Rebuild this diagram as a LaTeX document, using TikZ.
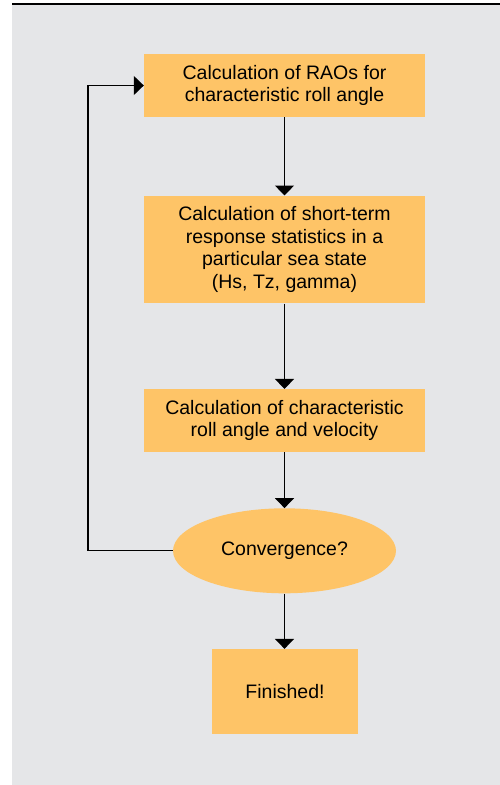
\documentclass[tikz,border=0pt]{standalone}
\usepackage{fontspec}
\setmainfont{Liberation Sans}
\usetikzlibrary{arrows.meta,shapes.geometric}
\definecolor{panel}{HTML}{E5E6E8}
\definecolor{boxfill}{HTML}{FEC467}
\tikzset{
  procbox/.style={rectangle, fill=boxfill, draw=none, align=center, inner sep=0pt,
    font=\fontsize{19.5}{22.5}\selectfont, text=black},
  decbox/.style={ellipse, fill=boxfill, draw=none, inner sep=0pt,
    font=\fontsize{19.5}{22.5}\selectfont, text=black},
  flow/.style={line width=1.3pt, -{Triangle[width=19pt,length=10pt]}},
  plainline/.style={line width=1.3pt}
}
\begin{document}
\begin{tikzpicture}[x=1pt,y=-1pt]
\useasboundingbox (0,0) rectangle (500,785);
\fill[panel] (12,4) rectangle (500,785);
\draw[plainline] (12,4) -- (500,4);
\node[procbox, minimum width=281pt, minimum height=62.7pt] (b1) at (284.5,85.5)
  {Calculation of RAOs for\\characteristic roll angle};
\node[procbox, minimum width=281pt, minimum height=107.6pt] (b2) at (284.5,249.5)
  {Calculation of short-term\\response statistics in a\\particular sea state\\(Hs, Tz, gamma)};
\node[procbox, minimum width=281pt, minimum height=62.7pt] (b3) at (284.5,420.5)
  {Calculation of characteristic\\roll angle and velocity};
\node[decbox, minimum width=223pt, minimum height=85pt] (conv) at (284.5,550.8)
  {Convergence?};
\node[procbox, minimum width=145.7pt, minimum height=85.3pt] (fin) at (285,691.7)
  {Finished!};
\coordinate (lx) at (88,0);
\draw[flow] (b1.south) -- (b2.north);
\draw[flow] (b2.south) -- (b3.north);
\draw[flow] (b3.south) -- (conv.north);
\draw[flow] (conv.south) -- (fin.north -| conv.south);
\draw[flow] (conv.west) -- (conv.west -| lx) |- (b1.west);
\end{tikzpicture}
\end{document}
